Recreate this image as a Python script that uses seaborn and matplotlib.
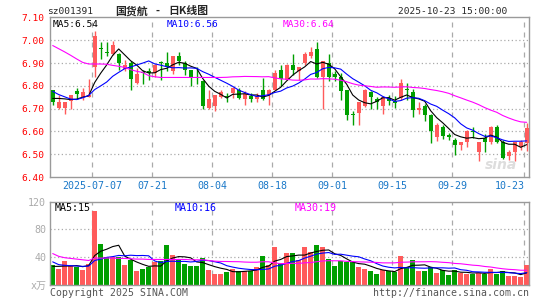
import numpy as np
import pandas as pd
import seaborn as sns
import matplotlib
matplotlib.use("Agg")
import matplotlib.pyplot as plt

# ---- data ----
opens = [6.78, 6.703, 6.703, 6.732, 6.776, 6.751, 6.751, 6.884, 6.965, 6.948,
         6.940, 6.940, 6.873, 6.90, 6.813, 6.86, 6.864, 6.857, 6.905, 6.90,
         6.864, 6.931, 6.90, 6.871, 6.84, 6.82, 6.703, 6.713, 6.751, 6.757,
         6.767, 6.78, 6.744, 6.757, 6.744, 6.783, 6.761, 6.783, 6.871, 6.827,
         6.893, 6.867, 6.90, 6.933, 6.962, 6.839, 6.90, 6.852, 6.837, 6.78,
         6.676, 6.681, 6.713, 6.772, 6.742, 6.713, 6.747, 6.735, 6.747, 6.785,
         6.772, 6.693, 6.71, 6.671, 6.578, 6.618, 6.585, 6.561, 6.542, 6.556,
         6.60, 6.51, 6.571, 6.556, 6.619, 6.553, 6.493, 6.51, 6.53, 6.549]
closes = [6.73, 6.729, 6.729, 6.758, 6.764, 6.772, 6.761, 7.02, 6.962, 6.945,
          6.981, 6.902, 6.89, 6.832, 6.852, 6.855, 6.855, 6.893, 6.902, 6.881,
          6.931, 6.911, 6.871, 6.838, 6.833, 6.71, 6.742, 6.758, 6.772, 6.753,
          6.79, 6.747, 6.766, 6.744, 6.754, 6.744, 6.783, 6.857, 6.832, 6.893,
          6.871, 6.881, 6.94, 6.949, 6.839, 6.908, 6.839, 6.839, 6.776, 6.674,
          6.672, 6.729, 6.78, 6.751, 6.729, 6.75, 6.732, 6.725, 6.813, 6.781,
          6.693, 6.703, 6.674, 6.603, 6.63, 6.581, 6.578, 6.542, 6.552, 6.60,
          6.596, 6.552, 6.553, 6.619, 6.556, 6.483, 6.51, 6.552, 6.552, 6.615]
highs = [6.78, 6.76, 6.729, 6.76, 6.79, 6.79, 6.83, 7.04, 6.991, 6.991,
         6.996, 6.945, 6.915, 6.91, 6.878, 6.87, 6.878, 6.896, 6.911, 6.949,
         6.931, 6.949, 6.908, 6.871, 6.881, 6.825, 6.783, 6.76, 6.78, 6.768,
         6.794, 6.79, 6.776, 6.768, 6.768, 6.835, 6.785, 6.868, 6.893, 6.896,
         6.94, 6.882, 6.949, 6.971, 6.993, 6.91, 6.94, 6.867, 6.857, 6.78,
         6.688, 6.73, 6.786, 6.776, 6.751, 6.752, 6.761, 6.754, 6.83, 6.813,
         6.786, 6.729, 6.72, 6.675, 6.637, 6.63, 6.593, 6.571, 6.556, 6.605,
         6.618, 6.553, 6.589, 6.622, 6.63, 6.564, 6.52, 6.556, 6.564, 6.637]
lows = [6.715, 6.70, 6.676, 6.70, 6.744, 6.74, 6.75, 6.84, 6.918, 6.933,
        6.937, 6.87, 6.865, 6.78, 6.808, 6.81, 6.827, 6.838, 6.827, 6.867,
        6.852, 6.893, 6.849, 6.798, 6.81, 6.70, 6.70, 6.688, 6.747, 6.729,
        6.747, 6.744, 6.715, 6.729, 6.729, 6.739, 6.717, 6.78, 6.80, 6.825,
        6.849, 6.824, 6.893, 6.922, 6.835, 6.70, 6.82, 6.82, 6.739, 6.652,
        6.63, 6.63, 6.707, 6.70, 6.70, 6.676, 6.717, 6.703, 6.74, 6.739,
        6.662, 6.676, 6.647, 6.549, 6.56, 6.567, 6.564, 6.498, 6.52, 6.534,
        6.571, 6.47, 6.512, 6.545, 6.549, 6.48, 6.476, 6.471, 6.52, 6.515]
volumes = [29, 22.2, 34.6, 27.5, 25, 20.8, 30.3, 107, 58.7, 39.8,
           39.8, 39.8, 29, 36, 19.4, 22.7, 25.6, 32.2, 34.6, 57.3,
           43.1, 36, 30.3, 27.5, 27.5, 38.8, 20.8, 16.1, 16.1, 18.9,
           22.7, 19.4, 19.4, 19.4, 25.6, 41.7, 29, 54.9, 31.3, 46.4,
           46.4, 35, 54.9, 46.6, 57.3, 54.9, 37.4, 27.5, 34.6, 32.2,
           32.2, 26, 23.2, 20.4, 16.1, 20.8, 19.4, 18, 41.7, 25,
           36, 20.4, 20.4, 25, 17, 20.8, 14.7, 20.8, 17, 16.1,
           15.6, 17, 16.1, 23.2, 16.1, 20.4, 12.3, 13.2, 10.9, 29]

# moving average values at the start of the window (history lies before the chart)
ma5_head = [6.745, 6.745, 6.743, 6.740]
ma10_head = [6.776, 6.762, 6.752, 6.742, 6.740, 6.748, 6.758, 6.784, 6.80]
ma30_head = [6.977, 6.963, 6.949, 6.934, 6.918, 6.903, 6.896, 6.896, 6.896, 6.895,
             6.89, 6.886, 6.881, 6.871, 6.864, 6.859, 6.845, 6.840, 6.837, 6.837,
             6.837, 6.837, 6.837, 6.837, 6.837, 6.837, 6.837, 6.837, 6.837]
vma5_head = [26.5, 26.5, 27, 27]
vma10_head = [33, 29, 28, 27.5, 27, 26.5, 27, 35, 37]
vma30_head = [45, 41, 39, 38, 37, 36, 35, 38.5, 38.5, 38.5,
              38.5, 38, 38, 37.5, 37, 37, 36.5, 36.5, 36.5, 36.5,
              36.5, 36.5, 36.5, 36, 36, 36, 35, 34, 33.6]

date_idx = [7, 17, 27, 37, 47, 57, 67, 79]
date_labels = ["2025-07-07", "07-21", "08-04", "08-18", "09-01", "09-15", "09-29", "10-23"]
price_ticks = [6.40, 6.50, 6.60, 6.70, 6.80, 6.90, 7.00, 7.10]
vol_ticks = [0, 40, 80, 120]
vol_tick_labels = ["x万", "40", "80", "120"]
vol_ma_labels = ["MA5:15", "MA10:16", "MA30:19"]

RED = "#ff5b5b"
GREEN = "#009f00"
GRID = "#aaaaaa"
FRAME = "#9a9a9a"
CJK = ["Noto Sans CJK SC", "DejaVu Sans"]


def moving(vals, n, head):
    s = pd.Series(vals, dtype=float).rolling(n).mean()
    s.iloc[:len(head)] = head
    return s


df = pd.DataFrame({"i": np.arange(len(closes)), "open": opens, "close": closes,
                   "high": highs, "low": lows, "vol": volumes})
df["up"] = np.where(df.close >= df.open, "up", "down")
df["ma5"] = moving(closes, 5, ma5_head)
df["ma10"] = moving(closes, 10, ma10_head)
df["ma30"] = moving(closes, 30, ma30_head)
df["vma5"] = moving(volumes, 5, vma5_head)
df["vma10"] = moving(volumes, 10, vma10_head)
df["vma30"] = moving(volumes, 30, vma30_head)

sns.set_style("white")
plt.rcParams["font.family"] = ["DejaVu Sans Mono", "Noto Sans CJK SC"]

fig = plt.figure(figsize=(5.45, 3.0), dpi=100)
ax = fig.add_axes([0.0923, 0.4097, 0.8783, 0.532])
axv = fig.add_axes([0.0923, 0.051, 0.8783, 0.2767])

xlim = (-0.4, 79.38)
for a in (ax, axv):
    a.set_xlim(xlim)
    for s in a.spines.values():
        s.set_color(FRAME)
        s.set_linewidth(1.0)
    a.set_xticks([])
    for d in date_idx:
        a.axvline(d - 0.4, color=GRID, lw=0.9, ls=(0, (4, 4)), zorder=0)

# ---- price panel ----
ax.set_ylim(6.40, 7.10)
for p in price_ticks[1:-1]:
    ax.axhline(p, color=GRID, lw=0.9, ls=(0, (1, 2)), zorder=0)

colors = np.where(df.up == "up", RED, GREEN)
ax.vlines(df.i, df.low, df.high, colors=colors, lw=1.0, zorder=2)
body = np.maximum((df.close - df.open).abs(), 0.003)
ax.bar(df.i, body, bottom=np.minimum(df.open, df.close), width=0.7,
       color=colors, linewidth=0, zorder=3)

sns.lineplot(data=df, x="i", y="ma5", color="black", lw=0.8, ax=ax, zorder=4)
sns.lineplot(data=df, x="i", y="ma10", color="#0000ff", lw=0.8, ax=ax, zorder=4)
sns.lineplot(data=df, x="i", y="ma30", color="#ff00ff", lw=0.8, ax=ax, zorder=4)

ax.set_yticks(price_ticks)
ax.set_yticklabels([f"{p:.2f}" for p in price_ticks])
ax.tick_params(axis="y", length=0, pad=4, labelsize=6.8, labelcolor="#ff0000")
ax.set_xlabel("")
ax.set_ylabel("")

ax.text(0.005, 0.985, f"MA5:{df.ma5.iloc[-1]:.2f}", transform=ax.transAxes,
        fontsize=6.8, color="black", va="top", ha="left")
ax.text(0.244, 0.985, f"MA10:{df.ma10.iloc[-1]:.2f}", transform=ax.transAxes,
        fontsize=6.8, color="#0000ff", va="top", ha="left")
ax.text(0.485, 0.985, f"MA30:{df.ma30.iloc[-1]:.2f}", transform=ax.transAxes,
        fontsize=6.8, color="#ff00ff", va="top", ha="left")
ax.text(0.975, 0.03, "sina", transform=ax.transAxes, fontsize=10, color="#dddddd",
        fontweight="bold", style="italic", family="DejaVu Sans", ha="right", va="bottom")

# ---- volume panel ----
axv.set_ylim(0, 120)
for v in vol_ticks[1:-1]:
    axv.axhline(v, color=GRID, lw=0.9, ls=(0, (1, 2)), zorder=0)
sns.barplot(data=df, x="i", y="vol", hue="up", palette={"up": RED, "down": GREEN},
            native_scale=True, width=0.8, linewidth=0, saturation=1,
            legend=False, ax=axv, zorder=2)
sns.lineplot(data=df, x="i", y="vma5", color="black", lw=0.8, ax=axv, zorder=4)
sns.lineplot(data=df, x="i", y="vma10", color="#0000ff", lw=0.8, ax=axv, zorder=4)
sns.lineplot(data=df, x="i", y="vma30", color="#ff00ff", lw=0.8, ax=axv, zorder=4)
axv.set_xlim(xlim)
axv.set_xticks([])
axv.set_yticks(vol_ticks)
axv.set_yticklabels(vol_tick_labels)
axv.tick_params(axis="y", length=0, pad=3, labelsize=7.2, labelcolor="#aaaaaa")
axv.set_xlabel("")
axv.set_ylabel("")
for x0, lab, c in zip([0.010, 0.260, 0.510], vol_ma_labels, ["black", "#0000ff", "#ff00ff"]):
    axv.text(x0, 0.985, lab, transform=axv.transAxes, fontsize=7.2, color=c,
             va="top", ha="left")

# ---- date labels between panels ----
for k, (d, lab) in enumerate(zip(date_idx, date_labels)):
    xf = 0.0923 + 0.8783 * (d - 0.4 - xlim[0]) / (xlim[1] - xlim[0])
    last = k == len(date_idx) - 1
    fig.text(xf, 1 - 186 / 300, lab, fontsize=7.2, color="#1a78c8",
             ha="right" if last else "center", va="center")

# ---- header and footer ----
fig.text(47 / 545, 1 - 12 / 300, "sz001391", fontsize=6.8, ha="left", va="center")
fig.text(115 / 545, 1 - 11 / 300, "国货航", fontsize=7.8, fontweight="bold",
         ha="left", va="center", family=CJK)
fig.text(157 / 545, 1 - 11 / 300, "-", fontsize=7.8, fontweight="bold",
         ha="center", va="center", family=CJK)
fig.text(168 / 545, 1 - 11 / 300, "日K线图", fontsize=7.8, fontweight="bold",
         ha="left", va="center", family=CJK)
fig.text(507 / 545, 1 - 12 / 300, "2025-10-23 15:00:00", fontsize=6.8, ha="right", va="center")
fig.text(50 / 545, 1 - 293 / 300, "Copyright 2025 SINA.COM", fontsize=7.1, color="#555555",
         ha="left", va="center")
fig.text(529 / 545, 1 - 293 / 300, "http://finance.sina.com.cn", fontsize=7.1, color="#555555",
         ha="right", va="center")

fig.savefig("out.png", dpi=100, facecolor="white")
